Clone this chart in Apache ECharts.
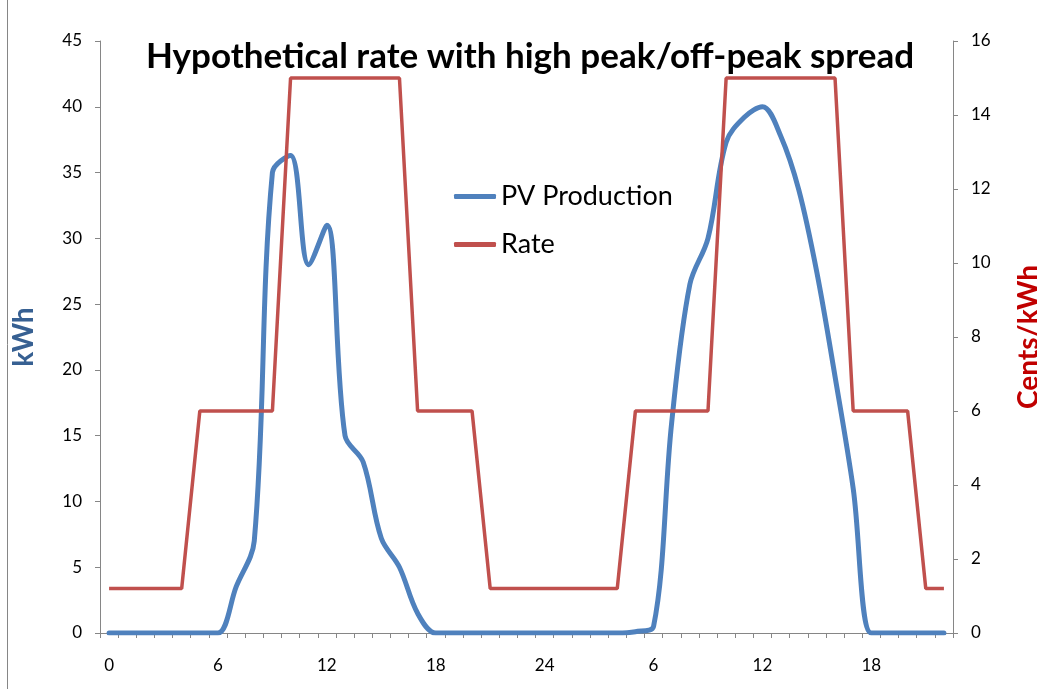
<!DOCTYPE html>
<html>
<head>
<meta charset="utf-8">
<script src="https://cdn.jsdelivr.net/npm/echarts@6/dist/echarts.min.js"></script>
<style>html,body{margin:0;padding:0;background:#fff}#c{width:1037px;height:689px}</style>
</head>
<body>
<div id="c"></div>
<script>
const hours = ["0","1","2","3","4","5","6","7","8","9","10","11","12","13","14","15","16","17","18","19","20","21","22","23","24",
  "1","2","3","4","5","6","7","8","9","10","11","12","13","14","15","16","17","18","19","20","21","22"];
const pvProduction = [0,0,0,0,0,0,0,3.5,7,35,36.3,28,31,15,13,7.2,5,1.5,0,0,0,0,0,0,0,0,0,0,0,0.1,0.5,
  16,26.5,30,37.3,39.2,40,37.8,33.7,27.4,19.5,11,0,0,0,0,0];
const rate = [1.2,1.2,1.2,1.2,1.2,6,6,6,6,6,15,15,15,15,15,15,15,6,6,6,6,1.2,1.2,1.2,1.2,1.2,1.2,1.2,1.2,
  6,6,6,6,6,15,15,15,15,15,15,15,6,6,6,6,1.2,1.2];
const titleText = "Hypothetical rate with high peak/off-peak spread";
const leftName = "kWh";
const rightName = "Cents/kWh";

const FONT = "Lato";
const chart = echarts.init(document.getElementById('c'));
chart.setOption({
  animation: false,
  backgroundColor: '#fff',
  title: {
    text: titleText, left: 141, top: 34,
    textStyle: {fontFamily: FONT, fontSize: 35, fontWeight: 'bold', color: '#000'}
  },
  legend: {
    orient: 'vertical', left: 449, top: 178, itemGap: 21,
    itemWidth: 42, itemHeight: 5, icon: 'roundRect',
    textStyle: {fontFamily: FONT, fontSize: 27, color: '#000'},
    data: ['PV Production', 'Rate']
  },
  grid: {left: 100, right: 84, top: 41, bottom: 56, outerBoundsMode: 'none', containLabel: false},
  xAxis: {
    type: 'category', data: hours, boundaryGap: true,
    axisLine: {lineStyle: {color: '#868686', width: 1}},
    axisTick: {show: true, interval: 0, length: 5, lineStyle: {color: '#868686'}},
    axisLabel: {interval: 5, margin: 24, fontFamily: FONT, fontSize: 17, color: '#000'},
    splitLine: {show: false}
  },
  yAxis: [{
    type: 'value', min: 0, max: 45, interval: 5, position: 'left',
    name: leftName, nameLocation: 'middle', nameGap: 62, nameRotate: 90,
    nameTextStyle: {fontFamily: FONT, fontSize: 28, fontWeight: 'bold', color: '#376092'},
    axisLine: {show: true, lineStyle: {color: '#868686'}},
    axisTick: {show: true, length: 5, lineStyle: {color: '#868686'}},
    axisLabel: {margin: 18, fontFamily: FONT, fontSize: 17, color: '#000'},
    splitLine: {show: false}
  }, {
    type: 'value', min: 0, max: 16, interval: 2, position: 'right',
    name: rightName, nameLocation: 'middle', nameGap: 62, nameRotate: 90,
    nameTextStyle: {fontFamily: FONT, fontSize: 28, fontWeight: 'bold', color: '#C00000'},
    axisLine: {show: true, lineStyle: {color: '#868686'}},
    axisTick: {show: true, length: 5, lineStyle: {color: '#868686'}},
    axisLabel: {margin: 18, fontFamily: FONT, fontSize: 17, color: '#000'},
    splitLine: {show: false}
  }],
  series: [{
    name: 'PV Production', type: 'line', yAxisIndex: 0, data: pvProduction,
    smooth: 0.35, symbol: 'none', z: 2,
    lineStyle: {color: '#4F81BD', width: 5, cap: 'round', join: 'round'},
    itemStyle: {color: '#4F81BD'}
  }, {
    name: 'Rate', type: 'line', yAxisIndex: 1, data: rate,
    symbol: 'none', z: 3,
    lineStyle: {color: '#C0504D', width: 3.5},
    itemStyle: {color: '#C0504D'}
  }],
  graphic: [{
    type: 'line', shape: {x1: 7.5, y1: 0, x2: 7.5, y2: 689},
    style: {stroke: '#868686', lineWidth: 1}
  }]
});
</script>
</body>
</html>
